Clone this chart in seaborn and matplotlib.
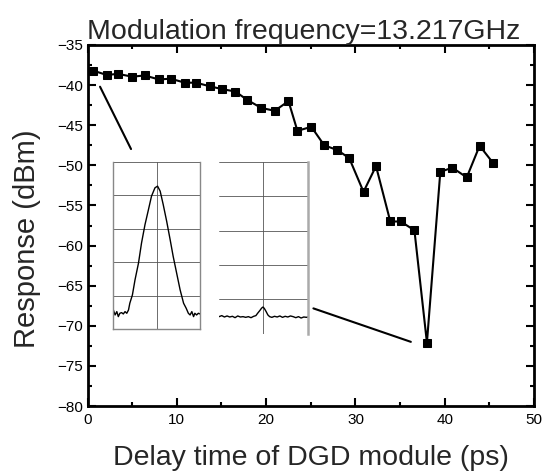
import pandas as pd
import matplotlib.pyplot as plt
import seaborn as sns
from matplotlib.ticker import MultipleLocator

# Main response curve
delay_ps = [0.65, 2.15, 3.4, 5.0, 6.4, 8.0, 9.3, 10.9, 12.15, 13.7, 15.06, 16.55,
            17.9, 19.46, 20.96, 22.5, 23.5, 25.06, 26.5, 27.97, 29.3, 30.9, 32.3,
            33.9, 35.07, 36.6, 38.0, 39.5, 40.85, 42.46, 43.9, 45.4]
response_dbm = [-38.2, -38.74, -38.6, -38.95, -38.8, -39.3, -39.2, -39.7, -39.7,
                -40.15, -40.5, -40.8, -41.86, -42.85, -43.2, -42.0, -45.7, -45.2,
                -47.5, -48.1, -49.1, -53.3, -50.1, -57.0, -57.0, -58.1, -72.1,
                -50.8, -50.3, -51.5, -47.56, -49.7]

# Inset spectra traces (in grid divisions: x 0..2, y 0..5)
spec1_x = [0, 0.04, 0.08, 0.115, 0.15, 0.19, 0.23, 0.27, 0.31, 0.35, 0.38, 0.44,
           0.5, 0.58, 0.65, 0.73, 0.81, 0.88, 0.96, 1.02, 1.08, 1.15, 1.23, 1.31,
           1.38, 1.46, 1.54, 1.62, 1.68, 1.73, 1.77, 1.81, 1.85, 1.88, 1.92, 1.96, 2.0]
spec1_y = [0.57, 0.42, 0.52, 0.37, 0.47, 0.49, 0.45, 0.52, 0.47, 0.57, 0.77, 1.02,
           1.47, 1.97, 2.57, 3.12, 3.57, 3.97, 4.22, 4.27, 4.12, 3.72, 3.22, 2.67,
           2.17, 1.67, 1.17, 0.77, 0.62, 0.47, 0.42, 0.52, 0.37, 0.47, 0.42, 0.47, 0.45]

spec2_x = [0, 0.06, 0.12, 0.18, 0.24, 0.30, 0.36, 0.42, 0.48, 0.54, 0.60, 0.66,
           0.72, 0.78, 0.83, 0.87, 0.92, 0.96, 0.99, 1.02, 1.06, 1.10, 1.14, 1.19,
           1.25, 1.31, 1.37, 1.43, 1.49, 1.55, 1.61, 1.67, 1.73, 1.79, 1.85, 1.91,
           1.97, 2.0]
spec2_y = [0.5, 0.53, 0.49, 0.52, 0.49, 0.51, 0.47, 0.52, 0.49, 0.50, 0.48, 0.50,
           0.47, 0.51, 0.53, 0.60, 0.68, 0.75, 0.78, 0.74, 0.65, 0.55, 0.50, 0.48,
           0.51, 0.49, 0.52, 0.48, 0.51, 0.49, 0.52, 0.50, 0.47, 0.50, 0.46, 0.49,
           0.48, 0.49]

df = pd.DataFrame({'delay': delay_ps, 'resp': response_dbm})

sns.set_theme(style="ticks")
plt.rcParams['font.family'] = ['Liberation Sans', 'DejaVu Sans']

fig = plt.figure(figsize=(5.45, 4.76), dpi=100)
ax = fig.add_axes([0.1606, 0.147, 0.8194, 0.7585])

sns.lineplot(data=df, x='delay', y='resp', ax=ax, color='black', linewidth=1.5,
             marker='s', markersize=5.5, markeredgecolor='black', markerfacecolor='black')

ax.set_xlim(0, 50)
ax.set_ylim(-80, -35)
ax.xaxis.set_major_locator(MultipleLocator(10))
ax.xaxis.set_minor_locator(MultipleLocator(5))
ax.yaxis.set_major_locator(MultipleLocator(5))
ax.yaxis.set_minor_locator(MultipleLocator(2.5))
ax.tick_params(which='both', direction='in', top=True, right=True, width=1.5,
               labelsize=11, colors='black')
ax.tick_params(axis='x', pad=5)
ax.tick_params(which='major', length=6)
ax.tick_params(which='minor', length=3)
for s in ax.spines.values():
    s.set_linewidth(2)
    s.set_color('black')

ax.set_xlabel('Delay time of DGD module (ps)', fontsize=20.5, labelpad=13)
ax.set_ylabel('Response (dBm)', fontsize=21)
ax.yaxis.set_label_coords(-0.104, 0.463)
ax.set_title('Modulation frequency=13.217GHz', fontsize=20.5, pad=4, x=0.485)

# Pointer lines to the insets
ax.plot([1.4, 4.87], [-40.2, -47.97], color='black', linewidth=1.5)
ax.plot([25.29, 36.2], [-67.83, -72.0], color='black', linewidth=1.5)

# Inset spectra
for (x0, x1, ytop, ybot, sx, sy, show_left) in [
        (2.89, 12.6, -49.55, -70.4, spec1_x, spec1_y, True),
        (14.73, 24.66, -49.6, -71.0, spec2_x, spec2_y, False)]:
    ins = ax.inset_axes([x0, ybot, x1 - x0, ytop - ybot], transform=ax.transData)
    sns.lineplot(x=sx, y=sy, ax=ins, color='black', linewidth=1.0)
    ins.set_xlim(0, 2)
    ins.set_ylim(0, 5)
    ins.set_xticks([1])
    ins.set_yticks([1, 2, 3, 4, 5])
    ins.grid(True, color='#555555', linewidth=0.6)
    ins.tick_params(length=0, labelbottom=False, labelleft=False)
    ins.patch.set_alpha(0)
    for name, s in ins.spines.items():
        s.set_color('#888888')
        s.set_linewidth(1.0)
    ins.spines['top'].set_visible(False)
    if not show_left:
        ins.spines['left'].set_visible(False)
        ins.spines['bottom'].set_visible(False)
        ins.spines['right'].set_linewidth(1.8)
        ins.spines['right'].set_color('#aaaaaa')

fig.savefig('out.png', dpi=100)
